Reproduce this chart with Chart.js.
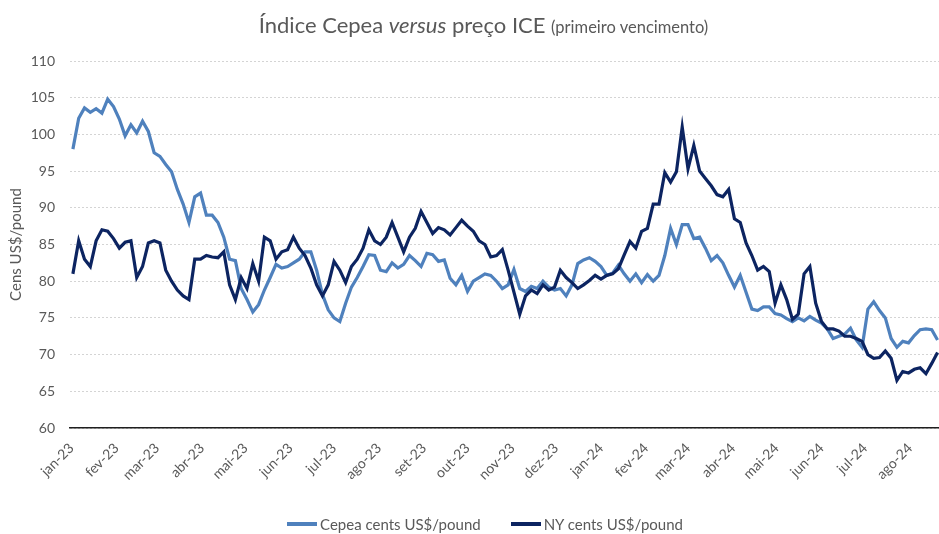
<!DOCTYPE html>
<html>
<head>
<meta charset="utf-8">
<script src="https://cdn.jsdelivr.net/npm/chart.js@4.4.1/dist/chart.umd.min.js"></script>
<style>
  html, body { margin: 0; padding: 0; background: #fff; }
  #wrap { position: relative; width: 939px; height: 534px; font-family: Lato, 'Open Sans', sans-serif; color: #595959; }
  #wrap canvas { position: absolute; left: 0; top: 0; }
  #title {
    position: absolute; left: 0; top: 12px; width: 939px;
    padding-left: 28px; box-sizing: border-box;
    text-align: center; white-space: nowrap;
    font-size: 22px; line-height: 26px;
  }
  #title .sub { font-size: 16.5px; }
  #legend {
    position: absolute; left: 0; top: 514px; width: 939px; height: 20px;
    padding-left: 31px; box-sizing: border-box;
    display: flex; justify-content: center; gap: 30px;
    font-size: 15px; line-height: 20px; white-space: nowrap;
  }
  #legend .item { display: flex; align-items: center; }
  #legend .swatch { display: inline-block; width: 30px; height: 4px; margin-right: 3px; }
</style>
</head>
<body>
<div id="wrap">
  <canvas id="chart" width="939" height="534"></canvas>
  <div id="title">Índice Cepea <em>versus</em> preço ICE <span class="sub">(primeiro vencimento)</span></div>
  <div id="legend"></div>
</div>
<script>
  // one reading every STEP_DAYS days, starting at START_DATE
  const START_DATE = '2023-01-02';
  const STEP_DAYS = 4;

  const monthLabels = ['jan-23', 'fev-23', 'mar-23', 'abr-23', 'mai-23', 'jun-23', 'jul-23', 'ago-23',
    'set-23', 'out-23', 'nov-23', 'dez-23', 'jan-24', 'fev-24', 'mar-24', 'abr-24', 'mai-24',
    'jun-24', 'jul-24', 'ago-24'];

  const cepea = [
    98.0, 102.2, 103.6, 103.0, 103.5, 102.9, 104.8, 103.8, 102.1, 99.8,
    101.3, 100.2, 101.8, 100.4, 97.5, 97.0, 95.9, 94.9, 92.5, 90.5,
    88.0, 91.5, 92.0, 89.0, 89.0, 88.0, 86.0, 83.0, 82.8, 79.0,
    77.5, 75.8, 76.8, 78.8, 80.5, 82.3, 81.8, 82.0, 82.5, 83.0,
    84.0, 84.0, 81.5, 78.2, 76.1, 75.0, 74.5, 77.0, 79.2, 80.5,
    82.0, 83.6, 83.5, 81.5, 81.3, 82.5, 81.8, 82.3, 83.5, 82.8,
    82.0, 83.8, 83.6, 82.7, 82.9, 80.4, 79.5, 80.8, 78.6, 80.0,
    80.5, 81.0, 80.8, 80.0, 79.0, 79.5, 81.6, 79.0, 78.6, 79.3,
    79.0, 80.0, 79.2, 78.8, 79.0, 78.0, 79.5, 82.4, 82.9, 83.2,
    82.7, 82.0, 80.8, 81.1, 82.2, 81.0, 80.0, 81.0, 79.8, 80.9,
    80.0, 80.8, 83.5, 87.2, 85.0, 87.7, 87.7, 85.8, 86.0, 84.5,
    82.8, 83.5, 82.5, 80.8, 79.2, 80.8, 78.5, 76.2, 76.0, 76.5,
    76.5, 75.6, 75.4, 74.9, 74.5, 75.0, 74.6, 75.2, 74.7, 74.3,
    73.5, 72.2, 72.5, 72.8, 73.6, 72.0, 71.0, 76.2, 77.2, 76.0,
    75.0, 72.2, 71.0, 71.8, 71.6, 72.6, 73.4, 73.5, 73.4, 72.0
  ];

  const ny = [
    81.0, 85.5, 83.0, 82.0, 85.5, 87.0, 86.8, 85.8, 84.5, 85.3,
    85.5, 80.5, 82.0, 85.2, 85.5, 85.2, 81.5, 80.0, 78.8, 78.0,
    77.5, 83.0, 83.0, 83.5, 83.3, 83.2, 84.0, 79.5, 77.5, 80.5,
    79.0, 82.4, 80.0, 86.0, 85.5, 83.0, 84.0, 84.3, 86.0, 84.5,
    83.5, 81.8, 79.5, 78.0, 79.5, 82.7, 81.5, 79.8, 82.0, 83.0,
    84.5, 87.0, 85.5, 85.0, 86.0, 88.0, 86.0, 84.0, 86.0, 87.2,
    89.5, 88.0, 86.5, 87.3, 87.0, 86.3, 87.3, 88.3, 87.5, 86.8,
    85.5, 85.0, 83.3, 83.5, 84.3, 81.5, 78.5, 75.5, 78.0, 78.8,
    78.3, 79.5, 78.8, 79.2, 81.5, 80.5, 79.8, 79.0, 79.5, 80.1,
    80.8, 80.3, 80.8, 81.0, 81.7, 83.6, 85.4, 84.5, 86.8, 87.2,
    90.5, 90.5, 94.8, 93.5, 94.9, 101.0, 95.3, 98.5, 95.0, 94.0,
    93.0, 91.8, 91.5, 92.5, 88.5, 88.0, 85.2, 83.5, 81.5, 82.0,
    81.3, 77.0, 79.5, 77.5, 74.8, 75.5, 81.0, 82.0, 77.0, 74.5,
    73.5, 73.5, 73.2, 72.5, 72.5, 72.2, 71.8, 70.0, 69.5, 69.6,
    70.5, 69.5, 66.5, 67.7, 67.5, 68.0, 68.2, 67.4, 68.8, 70.3
  ];

  const DAY = 86400000;
  const T0 = Date.UTC(2023, 0, 1);

  function dayOf(str) {
    const [y, m, d] = str.split('-').map(Number);
    return (Date.UTC(y, m - 1, d) - T0) / DAY;
  }

  const firstDay = dayOf(START_DATE);
  const toPoints = vals => vals.map((v, i) => ({ x: firstDay + i * STEP_DAYS, y: v }));
  const monthTicks = monthLabels.map((_, i) => (Date.UTC(2023, i, 1) - T0) / DAY);

  Chart.defaults.font.family = "Lato, 'Open Sans', sans-serif";
  Chart.defaults.color = '#595959';

  const chart = new Chart(document.getElementById('chart'), {
    type: 'line',
    data: {
      datasets: [
        {
          label: 'Cepea cents US$/pound',
          data: toPoints(cepea),
          borderColor: '#4f81bd',
          borderWidth: 3.2,
          pointRadius: 0,
          order: 1,
        },
        {
          label: 'NY cents US$/pound',
          data: toPoints(ny),
          borderColor: '#0c2461',
          borderWidth: 3.2,
          pointRadius: 0,
          order: 0,
        },
      ],
    },
    options: {
      responsive: false,
      animation: false,
      layout: { padding: { top: 61, right: 0, left: 0, bottom: 0 } },
      plugins: {
        tooltip: { enabled: false },
        legend: { display: false },
      },
      scales: {
        x: {
          type: 'linear',
          min: -1,
          max: 598,
          afterBuildTicks: s => { s.ticks = monthTicks.map(v => ({ value: v })); },
          afterFit: s => { s.height = 534 - 428; },
          grid: { display: false },
          border: { display: true, color: '#1f1f1f', width: 1.6 },
          ticks: {
            autoSkip: false,
            minRotation: 45,
            maxRotation: 45,
            padding: 4,
            font: { size: 14 },
            color: '#595959',
            callback: (v, i) => monthLabels[i],
          },
        },
        y: {
          min: 60,
          max: 110,
          afterFit: s => { s.width = 70; },
          grid: { color: '#d4d4d4', lineWidth: 1, drawTicks: false },
          border: { display: false, dash: [2, 2] },
          ticks: { stepSize: 5, padding: 15, font: { size: 14 }, color: '#595959' },
          title: {
            display: true,
            text: 'Cens US$/pound',
            font: { size: 15 },
            color: '#595959',
            padding: { top: 7, bottom: 0 },
          },
        },
      },
    },
  });

  // legend drawn as html so it can sit off-centre like the original
  const legendEl = document.getElementById('legend');
  legendEl.innerHTML = chart.data.datasets.map(ds =>
    `<span class="item"><span class="swatch" style="background:${ds.borderColor}"></span>${ds.label}</span>`
  ).join('');
</script>
</body>
</html>
